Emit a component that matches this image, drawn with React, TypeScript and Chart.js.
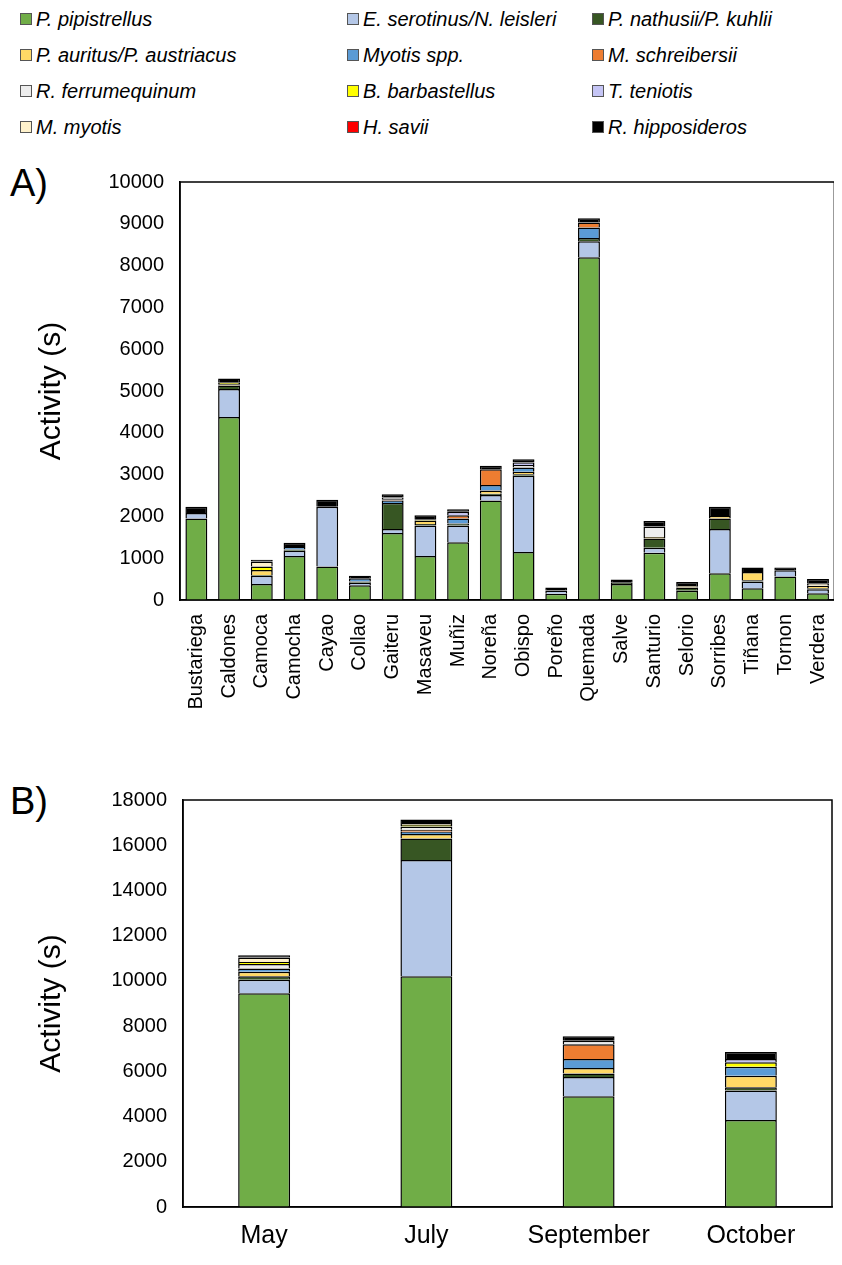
import React, { useEffect, useRef } from 'react';
import { Chart, registerables } from 'chart.js';

Chart.register(...registerables);

const species = ['P. pipistrellus', 'E. serotinus/N. leisleri', 'P. nathusii/P. kuhlii', 'P. auritus/P. austriacus', 'Myotis spp.', 'M. schreibersii', 'R. ferrumequinum', 'B. barbastellus', 'T. teniotis', 'M. myotis', 'H. savii', 'R. hipposideros'];
const colors = ['#70AD47', '#B4C7E7', '#375623', '#FFD966', '#5B9BD5', '#ED7D31', '#EDEDED', '#FFFF00', '#C5C5F5', '#FFF2CC', '#FF0000', '#000000'];

const sites = ['Bustariega', 'Caldones', 'Camoca', 'Camocha', 'Cayao', 'Collao', 'Gaiteru', 'Masaveu', 'Muñiz', 'Noreña', 'Obispo', 'Poreño', 'Quemada', 'Salve', 'Santurio', 'Selorio', 'Sorribes', 'Tiñana', 'Tornon', 'Verdera'];
// one array per species, in site order
const sitePip = [1950, 4380, 380, 1050, 800, 350, 1600, 1050, 1380, 2380, 1150, 150, 8200, 380, 1130, 220, 640, 280, 560, 160];
const siteSero = [130, 670, 200, 130, 1430, 60, 100, 730, 400, 130, 1820, 80, 380, 0, 120, 0, 1060, 160, 150, 100];
const siteNath = [0, 80, 20, 30, 0, 30, 620, 40, 50, 30, 40, 0, 80, 30, 220, 80, 250, 30, 0, 20];
const siteAur = [0, 30, 120, 0, 0, 0, 0, 80, 0, 80, 60, 0, 0, 0, 40, 30, 60, 200, 0, 60];
const siteMyo = [0, 0, 0, 60, 0, 80, 60, 0, 120, 130, 100, 0, 250, 0, 0, 0, 0, 0, 0, 0];
const siteSchr = [0, 0, 0, 0, 0, 0, 30, 0, 80, 380, 0, 0, 120, 0, 0, 0, 0, 0, 0, 0];
const siteFerr = [0, 0, 0, 0, 0, 0, 40, 0, 0, 0, 60, 0, 0, 0, 250, 0, 0, 0, 0, 0];
const siteBarb = [0, 40, 80, 0, 0, 0, 0, 30, 0, 0, 0, 0, 0, 0, 0, 0, 0, 0, 0, 0];
const siteTeni = [0, 0, 0, 0, 0, 0, 0, 0, 80, 0, 60, 0, 0, 0, 0, 0, 0, 0, 0, 0];
const siteMyotis = [0, 0, 120, 0, 0, 0, 0, 0, 0, 0, 0, 0, 0, 0, 0, 0, 0, 0, 0, 60];
const siteSavii = [0, 0, 0, 0, 0, 0, 0, 0, 0, 0, 0, 0, 0, 0, 0, 0, 0, 0, 0, 0];
const siteHippo = [150, 100, 40, 100, 170, 60, 80, 100, 60, 80, 80, 70, 100, 80, 130, 100, 220, 110, 70, 100];

const months = ['May', 'July', 'September', 'October'];
const monPip = [9450, 10200, 4900, 3850];
const monSero = [600, 5150, 850, 1300];
const monNath = [150, 950, 150, 150];
const monAur = [200, 200, 250, 500];
const monMyo = [150, 100, 400, 400];
const monSchr = [0, 80, 650, 0];
const monFerr = [200, 150, 150, 0];
const monBarb = [80, 60, 0, 200];
const monTeni = [0, 0, 0, 150];
const monMyotis = [200, 50, 0, 0];
const monSavii = [0, 0, 0, 0];
const monHippo = [100, 200, 200, 300];

const siteSeries = [sitePip, siteSero, siteNath, siteAur, siteMyo, siteSchr, siteFerr, siteBarb, siteTeni, siteMyotis, siteSavii, siteHippo];
const monSeries = [monPip, monSero, monNath, monAur, monMyo, monSchr, monFerr, monBarb, monTeni, monMyotis, monSavii, monHippo];

const FONT = 'Liberation Sans, Arial, sans-serif';

const boxPlugin = {
  id: 'box',
  afterDraw(chart: any) {
    const { ctx, chartArea: a } = chart;
    ctx.save();
    ctx.strokeStyle = '#000';
    ctx.lineWidth = 1.5;
    ctx.strokeRect(a.left, a.top, a.right - a.left, a.bottom - a.top);
    ctx.restore();
  },
};

function makeChart(canvas: HTMLCanvasElement, labels: string[], series: number[][], max: number, step: number, barPct: number, rotate: boolean, xSize: number, yWidth: number, xHeight: number, padTop: number, padRight: number) {
  return new Chart(canvas, {
    type: 'bar',
    data: {
      labels,
      datasets: series.map((d, i) => ({
        label: species[i],
        data: d,
        backgroundColor: colors[i],
        borderColor: '#000',
        borderWidth: d.map(v => (v > 0 ? 1.5 : 0)),
        categoryPercentage: 1,
        barPercentage: barPct,
      })),
    },
    options: {
      animation: false,
      responsive: false,
      plugins: { legend: { display: false }, tooltip: { enabled: false } },
      layout: { padding: { right: padRight, top: padTop, left: 30, bottom: 0 } },
      scales: {
        x: {
          stacked: true,
          grid: { display: false },
          border: { color: '#000', width: 1.5 },
          afterFit: (s: any) => { s.height = xHeight; },
          ticks: { color: '#000', font: { family: FONT, size: xSize }, maxRotation: rotate ? 90 : 0, minRotation: rotate ? 90 : 0, autoSkip: false, padding: 6 },
        },
        y: {
          stacked: true,
          min: 0,
          max,
          grid: { display: false },
          border: { color: '#000', width: 1.5 },
          afterFit: (s: any) => { s.width = yWidth - 30; },
          ticks: { stepSize: step, color: '#000', font: { family: FONT, size: 20 }, padding: 8, callback: (v: any) => String(v) },
          title: { display: true, text: 'Activity (s)', color: '#000', font: { family: FONT, size: 30 } },
        },
      },
    },
    plugins: [boxPlugin],
  });
}

export default function App() {
  const aRef = useRef<HTMLCanvasElement | null>(null);
  const bRef = useRef<HTMLCanvasElement | null>(null);

  useEffect(() => {
    const a = makeChart(aRef.current!, sites, siteSeries, 10000, 1000, 0.67, true, 20, 180, 150, 18, 0);
    const b = makeChart(bRef.current!, months, monSeries, 18000, 2000, 0.32, false, 25, 183, 58, 17, 2);
    return () => {
      a.destroy();
      b.destroy();
    };
  }, []);

  return (
    <div style={{ position: 'relative', width: 842, height: 1265, margin: -8, background: '#fff', fontFamily: FONT, overflow: 'hidden' }}>
      <div style={{ position: 'absolute', left: 20, top: 4, display: 'grid', gridTemplateColumns: '327px 245px 250px', rowGap: 6 }}>
        {species.map((s, i) => (
          <div key={s} style={{ display: 'flex', alignItems: 'center', fontSize: 20, fontStyle: 'italic', height: 30 }}>
            <span style={{ width: 10, height: 10, background: colors[i], border: '1px solid #555', marginRight: 4, display: 'inline-block' }} />
            {s}
          </div>
        ))}
      </div>
      <div style={{ position: 'absolute', left: 10, top: 162, fontSize: 38 }}>A)</div>
      <canvas ref={aRef} width={848} height={588} style={{ position: 'absolute', left: 0, top: 162 }} />
      <div style={{ position: 'absolute', left: 10, top: 780, fontSize: 38 }}>B)</div>
      <canvas ref={bRef} width={834} height={485} style={{ position: 'absolute', left: 0, top: 780 }} />
    </div>
  );
}
